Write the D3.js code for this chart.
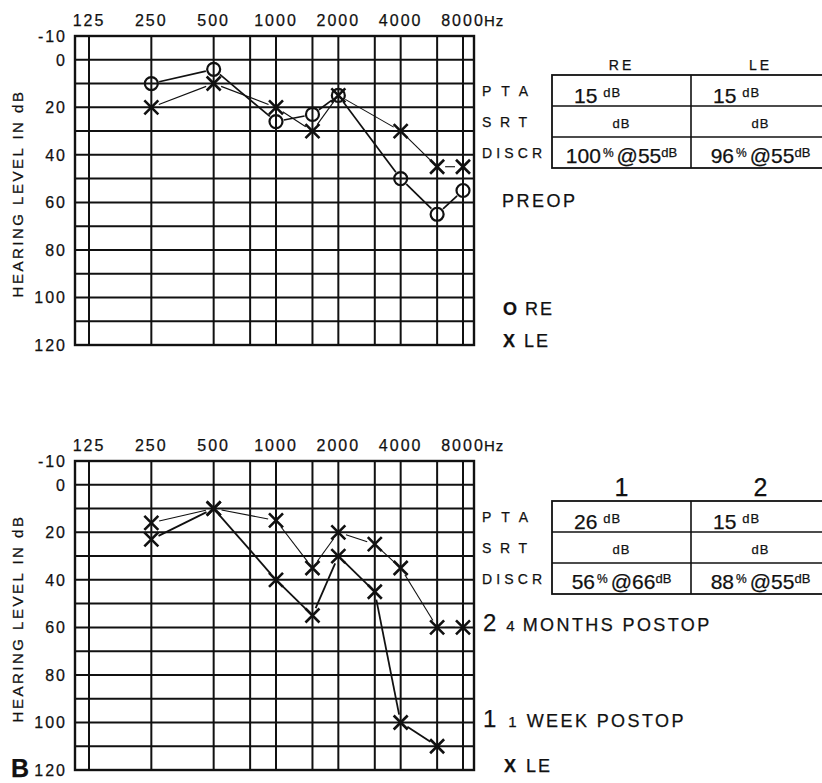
<!DOCTYPE html>
<html>
<head>
<meta charset="utf-8">
<script src="https://cdn.jsdelivr.net/npm/d3@7"></script>
<style>
  body { margin: 0; background: #fff; }
  text { font-family: "Liberation Sans", Arial, sans-serif; fill: #111; stroke: #111; stroke-width: 0.25px; }
</style>
</head>
<body>
<svg id="chart" width="822" height="783"></svg>
<script>
// frequency axis
let octaveFreqs = [125, 250, 500, 1000, 2000, 4000, 8000];
let freqLabels = ["125", "250", "500", "1000", "2000", "4000", "8000"];
let midFreqs = [750, 1500, 3000, 6000];
let dbTicks = [-10, 0, 20, 40, 60, 80, 100, 120];

// preop audiogram
let preopFreqs = [250, 500, 1000, 1500, 2000, 4000, 6000, 8000];
let preopRE = [10, 4, 26, 23, 15, 50, 65, 55];
let preopLE = [20, 10, 20, 30, 15, 30, 45, 45];

// postop audiogram (LE)
let postopFreqs = [250, 500, 1000, 1500, 2000, 3000, 4000, 6000, 8000];
let postop1Week = [23, 10, 40, 55, 30, 45, 100, 110, null];
let postop4Months = [16, 10, 15, 35, 20, 25, 35, 60, 60];

// tables
let rowLabels = ["PTA", "SRT", "DISCR"];
let preopCols = ["RE", "LE"];
let preopPTA = ["15", "15"];
let preopDiscrPct = ["100", "96"];
let preopDiscrLevel = ["55", "55"];
let postopCols = ["1", "2"];
let postopPTA = ["26", "15"];
let postopDiscrPct = ["56", "88"];
let postopDiscrLevel = ["66", "55"];

let svg = d3.select("#chart");
svg.append("rect").attr("width", 822).attr("height", 783).attr("fill", "#fff");

let plotLeft = 75, plotRight = 474;
let xScale = d3.scaleLog().base(2).domain([125, 8000]).range([89, 463]);

const drawGrid = (g, yScale) => {
  let y0 = yScale(-10), y1 = yScale(120);
  // horizontal lines every 10 dB
  g.selectAll(".hline")
    .data(d3.range(-10, 121, 10))
    .enter().append("line")
    .attr("x1", plotLeft).attr("x2", plotRight)
    .attr("y1", d => yScale(d)).attr("y2", d => yScale(d))
    .attr("stroke", "#111").attr("stroke-width", 2);
  // vertical lines at octave and mid-octave frequencies
  g.selectAll(".vline")
    .data(octaveFreqs.concat(midFreqs))
    .enter().append("line")
    .attr("x1", d => xScale(d)).attr("x2", d => xScale(d))
    .attr("y1", y0).attr("y2", y1)
    .attr("stroke", "#111").attr("stroke-width", 2);
  g.append("rect")
    .attr("x", plotLeft).attr("y", y0)
    .attr("width", plotRight - plotLeft).attr("height", y1 - y0)
    .attr("fill", "none").attr("stroke", "#111").attr("stroke-width", 2.4);

  // top axis labels
  g.selectAll(".flabel")
    .data(freqLabels)
    .enter().append("text")
    .attr("x", (d, i) => xScale(octaveFreqs[i]))
    .attr("y", y0 - 10)
    .attr("text-anchor", "middle")
    .attr("font-size", 16)
    .attr("letter-spacing", 2)
    .text(d => d);
  g.append("text")
    .attr("x", xScale(8000) + 21)
    .attr("y", y0 - 10)
    .attr("font-size", 15)
    .attr("letter-spacing", 1)
    .text("Hz");

  // left axis labels
  g.selectAll(".dblabel")
    .data(dbTicks)
    .enter().append("text")
    .attr("x", 67)
    .attr("y", d => yScale(d) + 6)
    .attr("text-anchor", "end")
    .attr("font-size", 16)
    .attr("letter-spacing", 2)
    .text(d => d);

  g.append("text")
    .attr("transform", "translate(23," + ((y0 + y1) / 2 + 3) + ") rotate(-90)")
    .attr("text-anchor", "middle")
    .attr("font-size", 15)
    .attr("letter-spacing", 2.5)
    .text("HEARING LEVEL IN dB");
};

// connecting line with small gaps at the symbols
const drawSeries = (g, yScale, freqs, values, width) => {
  let pts = freqs.map((f, i) => values[i] == null ? null : [xScale(f), yScale(values[i])]);
  let gap = 8;
  for (let i = 0; i < pts.length - 1; i++) {
    let a = pts[i], b = pts[i + 1];
    if (!a || !b) continue;
    let dx = b[0] - a[0], dy = b[1] - a[1];
    let len = Math.sqrt(dx * dx + dy * dy);
    if (len < gap * 2) continue;
    let ux = dx / len, uy = dy / len;
    g.append("line")
      .attr("x1", a[0] + ux * gap).attr("y1", a[1] + uy * gap)
      .attr("x2", b[0] - ux * gap).attr("y2", b[1] - uy * gap)
      .attr("stroke", "#111").attr("stroke-width", width);
  }
};

const drawCircles = (g, yScale, freqs, values) => {
  g.selectAll(null)
    .data(freqs.map((f, i) => [f, values[i]]).filter(d => d[1] != null))
    .enter().append("circle")
    .attr("cx", d => xScale(d[0])).attr("cy", d => yScale(d[1]))
    .attr("r", 6.5)
    .attr("fill", "none").attr("stroke", "#111").attr("stroke-width", 2.2);
};

const drawCrosses = (g, yScale, freqs, values) => {
  g.selectAll(null)
    .data(freqs.map((f, i) => [f, values[i]]).filter(d => d[1] != null))
    .enter().append("path")
    .attr("transform", d => "translate(" + xScale(d[0]) + "," + yScale(d[1]) + ")")
    .attr("d", "M-7,-7L7,7M7,-7L-7,7")
    .attr("fill", "none").attr("stroke", "#111").attr("stroke-width", 2.6);
};

// table with PTA / SRT / DISCR rows
const drawTable = (g, top, cols, pta, pct, level, headerSize, headerY) => {
  let left = 552, colW = 139, rowH = 31;
  let right = left + colW * 2;
  g.append("rect")
    .attr("x", left).attr("y", top)
    .attr("width", right - left).attr("height", rowH * 3)
    .attr("fill", "none").attr("stroke", "#111").attr("stroke-width", 1.8);
  [1, 2].forEach(r => {
    g.append("line")
      .attr("x1", left).attr("x2", right)
      .attr("y1", top + r * rowH).attr("y2", top + r * rowH)
      .attr("stroke", "#111").attr("stroke-width", 1.6);
  });
  g.append("line")
    .attr("x1", left + colW).attr("x2", left + colW)
    .attr("y1", top).attr("y2", top + rowH * 3)
    .attr("stroke", "#111").attr("stroke-width", 1.6);

  let labelLen = [46, 45, 60];
  rowLabels.forEach((lab, r) => {
    g.append("text")
      .attr("x", 482).attr("y", top + r * rowH + 21)
      .attr("font-size", 14)
      .attr("textLength", labelLen[r])
      .attr("lengthAdjust", "spacing")
      .text(lab);
  });

  cols.forEach((c, i) => {
    let cx = left + colW * i + colW / 2;
    g.append("text")
      .attr("x", cx).attr("y", headerY)
      .attr("text-anchor", "middle")
      .attr("font-size", headerSize)
      .attr("letter-spacing", headerSize > 20 ? 0 : 3)
      .text(c);

    // PTA
    let t = g.append("text")
      .attr("x", left + colW * i + 22).attr("y", top + 28);
    t.append("tspan").attr("font-size", 21).text(pta[i]);
    t.append("tspan").attr("font-size", 13).attr("dx", 6).attr("dy", -6).attr("letter-spacing", 1).text("dB");

    // SRT
    g.append("text")
      .attr("x", cx).attr("y", top + rowH + 22)
      .attr("text-anchor", "middle")
      .attr("font-size", 13).attr("letter-spacing", 1)
      .text("dB");

    // DISCR
    let d = g.append("text")
      .attr("x", cx).attr("y", top + rowH * 2 + 26)
      .attr("text-anchor", "middle");
    d.append("tspan").attr("font-size", 21).text(pct[i]);
    d.append("tspan").attr("font-size", 12).attr("dx", 2).attr("dy", -6).text("%");
    d.append("tspan").attr("font-size", 21).attr("dx", 3).attr("dy", 6).text("@" + level[i]);
    d.append("tspan").attr("font-size", 13).attr("dy", -6).text("dB");
  });
};

// ---- preop panel ----
let gTop = svg.append("g");
let yTop = d3.scaleLinear().domain([-10, 120]).range([36, 345]);
drawGrid(gTop, yTop);
drawSeries(gTop, yTop, preopFreqs, preopRE, 1.7);
drawSeries(gTop, yTop, preopFreqs, preopLE, 1.1);
drawCircles(gTop, yTop, preopFreqs, preopRE);
drawCrosses(gTop, yTop, preopFreqs, preopLE);
drawTable(gTop, 75, preopCols, preopPTA, preopDiscrPct, preopDiscrLevel, 14, 70);

gTop.append("text").attr("x", 502).attr("y", 207)
  .attr("font-size", 18).attr("letter-spacing", 2.5).text("PREOP");
let lr = gTop.append("text").attr("x", 503).attr("y", 315).attr("font-size", 18);
lr.append("tspan").attr("font-weight", "bold").text("O");
lr.append("tspan").attr("dx", 8).attr("letter-spacing", 2).text("RE");
let ll = gTop.append("text").attr("x", 503).attr("y", 347).attr("font-size", 18);
ll.append("tspan").attr("font-weight", "bold").text("X");
ll.append("tspan").attr("dx", 9).attr("letter-spacing", 2).text("LE");

// ---- postop panel ----
let gBot = svg.append("g");
let yBot = d3.scaleLinear().domain([-10, 120]).range([461, 770]);
drawGrid(gBot, yBot);
drawSeries(gBot, yBot, postopFreqs, postop4Months, 1.1);
drawSeries(gBot, yBot, postopFreqs, postop1Week, 1.8);
drawCrosses(gBot, yBot, postopFreqs, postop4Months);
drawCrosses(gBot, yBot, postopFreqs, postop1Week);
drawTable(gBot, 501, postopCols, postopPTA, postopDiscrPct, postopDiscrLevel, 25, 496);

let l2 = gBot.append("text").attr("x", 483).attr("y", 631);
l2.append("tspan").attr("font-size", 24).text("2");
l2.append("tspan").attr("font-size", 15).attr("dx", 10).text("4");
l2.append("tspan").attr("font-size", 18).attr("dx", 8).attr("letter-spacing", 2.4).text("MONTHS POSTOP");
let l1 = gBot.append("text").attr("x", 483).attr("y", 727);
l1.append("tspan").attr("font-size", 24).text("1");
l1.append("tspan").attr("font-size", 15).attr("dx", 12).text("1");
l1.append("tspan").attr("font-size", 18).attr("dx", 10).attr("letter-spacing", 2.4).text("WEEK POSTOP");
let lx = gBot.append("text").attr("x", 504).attr("y", 772).attr("font-size", 18);
lx.append("tspan").attr("font-weight", "bold").text("X");
lx.append("tspan").attr("dx", 10).attr("letter-spacing", 2).text("LE");

svg.append("text").attr("x", 11).attr("y", 777)
  .attr("font-size", 25).attr("font-weight", "bold").text("B");
</script>
</body>
</html>
